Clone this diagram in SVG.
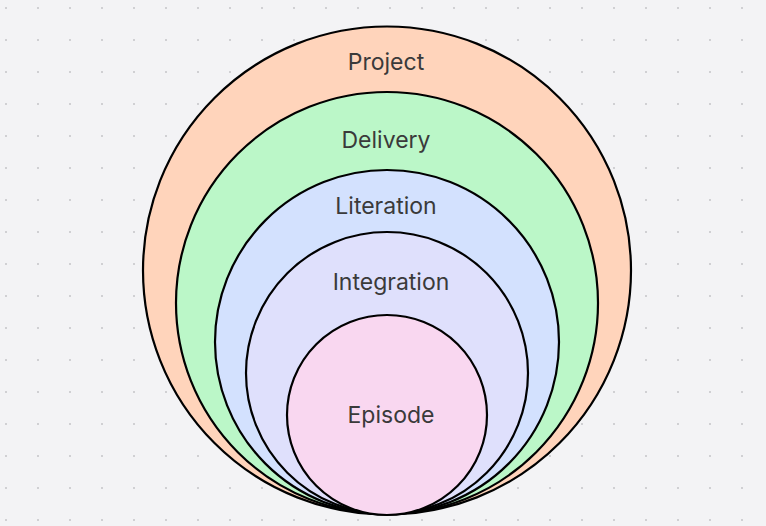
<svg xmlns="http://www.w3.org/2000/svg" width="766" height="526" viewBox="0 0 766 526">
<defs>
<pattern id="dots" x="0" y="0" width="32" height="32" patternUnits="userSpaceOnUse">
<rect x="5" y="7" width="2" height="2" fill="#d0d0d3"/>
</pattern>
<style>
.c{stroke:#000;stroke-width:2.2}
.t{font-family:Inter,"Liberation Sans",sans-serif;font-size:23px;fill:#3a3a3a;text-anchor:middle}
</style>
</defs>
<rect width="766" height="526" fill="#f3f3f5"/>
<rect width="766" height="526" fill="url(#dots)"/>
<g id="project"><circle class="c" cx="387" cy="270.5" r="244" fill="#ffd4bb"/><text class="t" x="386" y="70">Project</text></g>
<g id="delivery"><circle class="c" cx="387" cy="303" r="211" fill="#bbf7c8"/><text class="t" x="386" y="148">Delivery</text></g>
<g id="literation"><circle class="c" cx="387" cy="342" r="172" fill="#d3e1fe"/><text class="t" x="386" y="214">Literation</text></g>
<g id="integration"><circle class="c" cx="387" cy="373" r="141" fill="#dfe0fc"/><text class="t" x="391" y="290">Integration</text></g>
<g id="episode"><circle class="c" cx="387" cy="415" r="100" fill="#f9d7f0"/><text class="t" x="391" y="423">Episode</text></g>
<g id="connectors"/>
</svg>
